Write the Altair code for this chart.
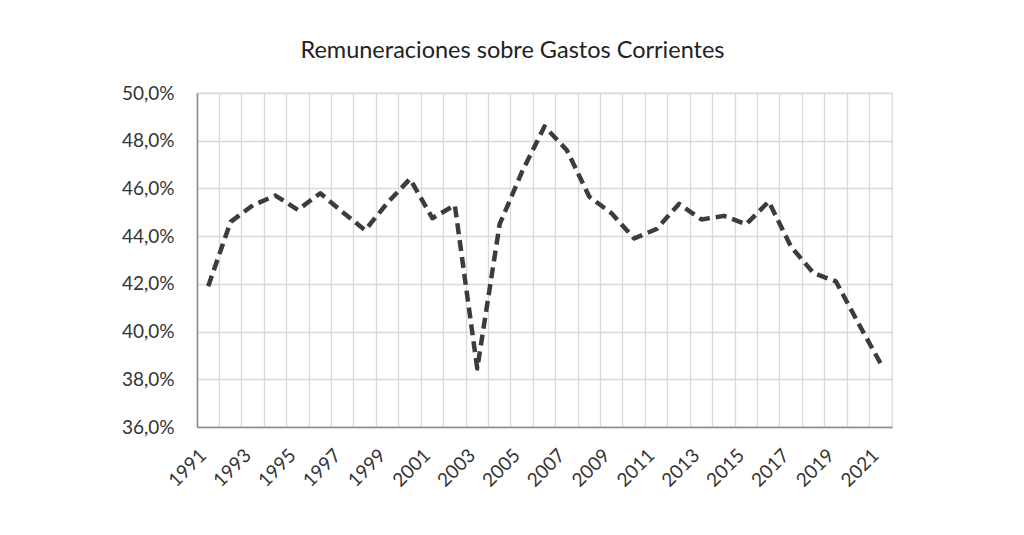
import altair as alt
import pandas as pd

years = list(range(1991, 2022))
values = [41.9, 44.6, 45.3, 45.7, 45.1, 45.8, 45.0, 44.25, 45.4, 46.4,
          44.75, 45.3, 38.45, 44.5, 46.7, 48.6, 47.6, 45.65, 44.95, 43.9,
          44.3, 45.35, 44.7, 44.85, 44.5, 45.45, 43.55, 42.45, 42.1, 40.35,
          38.65]
y_ticks = [36, 38, 40, 42, 44, 46, 48, 50]
title_text = "Remuneraciones sobre Gastos Corrientes"

df = pd.DataFrame({"year": [str(y) for y in years], "value": values})

W, H = 695, 334
band = W / len(years)
FONT = "Lato"

chart = alt.Chart(df).mark_line(
    color="#3c3c3c", strokeWidth=4.5, strokeDash=[11, 6], strokeJoin="round"
).encode(
    x=alt.X("year:O", title=None,
            scale=alt.Scale(type="band", paddingInner=0, paddingOuter=0),
            axis=alt.Axis(bandPosition=0, grid=True, gridColor="#d9d9d9", gridWidth=1.3,
                          ticks=False, domainColor="#8c8c8c", domainWidth=1.5,
                          labelAngle=-45, labelAlign="right", labelBaseline="middle",
                          labelPadding=25, labelOffset=-5,
                          labelFont=FONT, labelFontSize=19, labelColor="#333333",
                          labelExpr="toNumber(datum.value) % 2 == 1 ? datum.value : ''")),
    y=alt.Y("value:Q", title=None,
            scale=alt.Scale(domain=[36, 50], nice=False, zero=False),
            axis=alt.Axis(values=y_ticks, grid=True, gridColor="#d9d9d9", gridWidth=1.3,
                          ticks=False, domainColor="#8c8c8c", domainWidth=1.5,
                          labelPadding=23, labelFont=FONT, labelFontSize=19,
                          labelColor="#333333",
                          labelExpr="replace(format(datum.value, '.1f'), '.', ',') + '%'")),
).properties(
    width=W, height=H,
    title=alt.TitleParams(title_text, font=FONT, fontSize=23.5, fontWeight="normal",
                          color="#222222", anchor="middle", offset=22, dx=-32),
    autosize=alt.AutoSizeParams(type="none"),
    padding={"left": 189, "top": 85, "right": 110, "bottom": 90},
).configure_view(stroke="#d9d9d9", strokeWidth=1.3)

chart.save("out.html", embed_options={"renderer": "svg", "actions": False})
